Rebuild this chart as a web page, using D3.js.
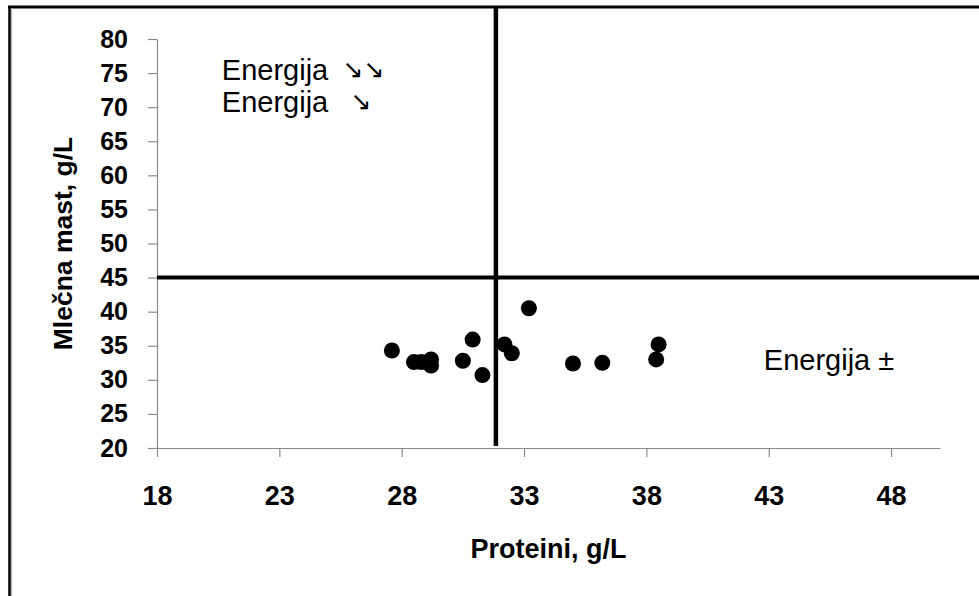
<!DOCTYPE html>
<html>
<head>
<meta charset="utf-8">
<script src="https://cdn.jsdelivr.net/npm/d3@7"></script>
<style>
  html, body { margin: 0; padding: 0; background: #fff; }
  svg { display: block; }
</style>
</head>
<body>
<svg id="chart" width="979" height="596"></svg>
<script>
// Milk protein vs. milk fat per sample (g/L)
const protein = [27.6, 28.5, 28.8, 29.2, 29.2, 30.5, 30.9, 31.3, 32.2, 32.5, 33.2, 35.0, 36.2, 38.5, 38.4];
const fat     = [34.3, 32.6, 32.6, 33.0, 32.1, 32.8, 35.9, 30.7, 35.2, 33.9, 40.5, 32.4, 32.5, 35.2, 33.0];

const xTicks = [18, 23, 28, 33, 38, 43, 48];
const yTicks = [20, 25, 30, 35, 40, 45, 50, 55, 60, 65, 70, 75, 80];
const xDomain = [18, 50];
const yDomain = [20, 80];

// Threshold lines splitting the plot into quadrants
const proteinLimit = 31.85;
const fatLimit = 45;

const quadrantLabels = [
  { x: 20.65, y: 74.0, text: "Energija", arrows: "↘↘" },
  { x: 20.65, y: 69.3, text: "Energija", arrows: " ↘" },
  { x: 42.8,  y: 31.4, text: "Energija ±", arrows: "" }
];

const svg = d3.select("#chart");
const W = 979, H = 596;
const font = "'Liberation Sans', Arial, sans-serif";

const x = d3.scaleLinear().domain(xDomain).range([157, 940]);
const y = d3.scaleLinear().domain(yDomain).range([448, 39]);

// Outer frame (top and left edges)
svg.append("line").attr("x1", 8).attr("x2", W).attr("y1", 7).attr("y2", 7)
  .attr("stroke", "#000").attr("stroke-width", 3);
svg.append("line").attr("x1", 11.5).attr("x2", 11.5).attr("y1", 8).attr("y2", H)
  .attr("stroke", "#bbb").attr("stroke-width", 1.5);
svg.append("line").attr("x1", 9.5).attr("x2", 9.5).attr("y1", 6).attr("y2", H)
  .attr("stroke", "#000").attr("stroke-width", 2.5);

// Axes
const axisColor = "#8a8a8a";
const gx = svg.append("g").attr("transform", `translate(0,${y(yDomain[0])})`)
  .call(d3.axisBottom(x).tickValues(xTicks).tickSize(9).tickSizeOuter(0).tickPadding(29));
const gy = svg.append("g").attr("transform", `translate(${x(xDomain[0])},0)`)
  .call(d3.axisLeft(y).tickValues(yTicks).tickSize(9).tickSizeOuter(0).tickPadding(20));

[gx, gy].forEach(g => {
  g.select(".domain").attr("stroke", axisColor).attr("stroke-width", 1.2);
  g.selectAll(".tick line").attr("stroke", axisColor).attr("stroke-width", 1.2);
  g.selectAll(".tick text").attr("fill", "#000").attr("font-family", font)
    .attr("font-weight", "bold");
});
gx.selectAll(".tick text").attr("font-size", 27);
gy.selectAll(".tick text").attr("font-size", 25);

// Axis titles
svg.append("text")
  .attr("x", (x.range()[0] + x.range()[1]) / 2).attr("y", 558)
  .attr("text-anchor", "middle")
  .attr("font-family", font).attr("font-size", 27).attr("font-weight", "bold")
  .text("Proteini, g/L");
svg.append("text")
  .attr("transform", `translate(72,${(y.range()[0] + y.range()[1]) / 2}) rotate(-90)`)
  .attr("text-anchor", "middle")
  .attr("font-family", font).attr("font-size", 26.5).attr("font-weight", "bold")
  .text("Mlečna mast, g/L");

// Threshold lines
svg.append("line")
  .attr("x1", x(xDomain[0])).attr("x2", W)
  .attr("y1", y(fatLimit)).attr("y2", y(fatLimit))
  .attr("stroke", "#000").attr("stroke-width", 4);
svg.append("line")
  .attr("x1", x(proteinLimit)).attr("x2", x(proteinLimit))
  .attr("y1", 7).attr("y2", y(yDomain[0]) - 2)
  .attr("stroke", "#000").attr("stroke-width", 4.5);

// Samples
svg.append("g").selectAll("circle")
  .data(protein.map((p, i) => [p, fat[i]]))
  .join("circle")
  .attr("cx", d => x(d[0]))
  .attr("cy", d => y(d[1]))
  .attr("r", 8)
  .attr("fill", "#000");

// Quadrant annotations
const lbl = svg.append("g").selectAll("text")
  .data(quadrantLabels)
  .join("text")
  .attr("x", d => x(d.x))
  .attr("y", d => y(d.y))
  .attr("font-family", font).attr("font-size", 29).attr("fill", "#000")
  .style("white-space", "pre");
lbl.append("tspan").text(d => d.text);
lbl.append("tspan")
  .attr("font-family", "'DejaVu Sans', sans-serif")
  .attr("font-size", 25)
  .attr("dx", 14)
  .attr("dy", -2)
  .text(d => d.arrows);
</script>
</body>
</html>
